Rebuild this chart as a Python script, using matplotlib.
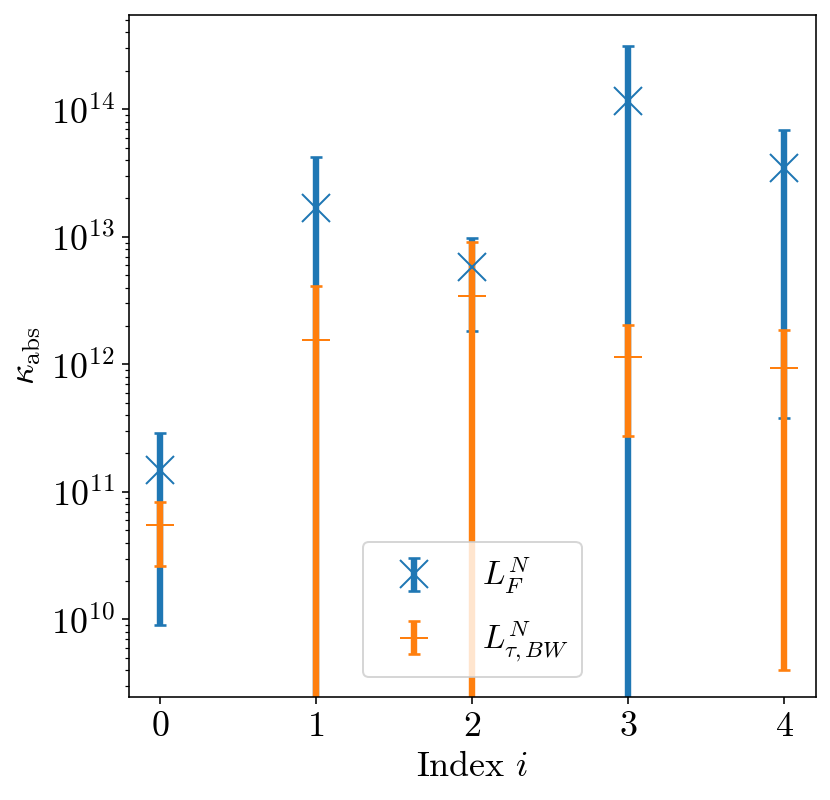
import matplotlib
matplotlib.use("Agg")
import matplotlib.pyplot as plt

plt.rcParams['font.family'] = ['serif']
plt.rcParams['font.serif'] = ['cmr10', 'DejaVu Serif']
plt.rcParams['mathtext.fontset'] = 'cm'
plt.rcParams['axes.formatter.use_mathtext'] = True
plt.rcParams['font.size'] = 18

# Data
index = [0, 1, 2, 3, 4]
kappa_F = [1.48e11, 1.68e13, 5.84e12, 1.15e14, 3.454e13]
kappa_F_err = [1.39e11, 2.54e13, 4.02e12, 1.99e14, 3.416e13]
kappa_BW = [5.45e10, 1.545e12, 3.42e12, 1.148e12, 9.27e11]
kappa_BW_err = [2.85e10, 2.57e12, 5.6e12, 8.73e11, 9.23e11]
labels = [r'$L_F^N$', r'$L_{\tau,BW}^N$']

fig = plt.figure(figsize=(830/144, 800/144), dpi=144)
ax = fig.add_axes([0.1551, 0.1284, 0.9828 - 0.1551, 0.98125 - 0.1284])

ax.errorbar(index, kappa_F, yerr=kappa_F_err, fmt='x', color='#1f77b4',
            ms=14, elinewidth=3.2, capsize=3.2, capthick=1.3, label=labels[0])
ax.errorbar(index, kappa_BW, yerr=kappa_BW_err, fmt='+', color='#ff7f0e',
            ms=14, elinewidth=3.2, capsize=3.2, capthick=1.3, label=labels[1])

ax.set_yscale('log')
ax.set_ylim(2.45e9, 5.48e14)
ax.set_xlim(-0.2, 4.2)
ax.set_xticks(index)
ax.set_xlabel(r'Index $i$')
ax.set_ylabel(r'$\kappa_{\mathrm{abs}}$')

ax.legend(loc='lower center', prop={'size': 16.5}, handlelength=2.3,
          handletextpad=0.9, borderaxespad=0.6, labelspacing=0.7)

fig.savefig('out.png', dpi=144)
